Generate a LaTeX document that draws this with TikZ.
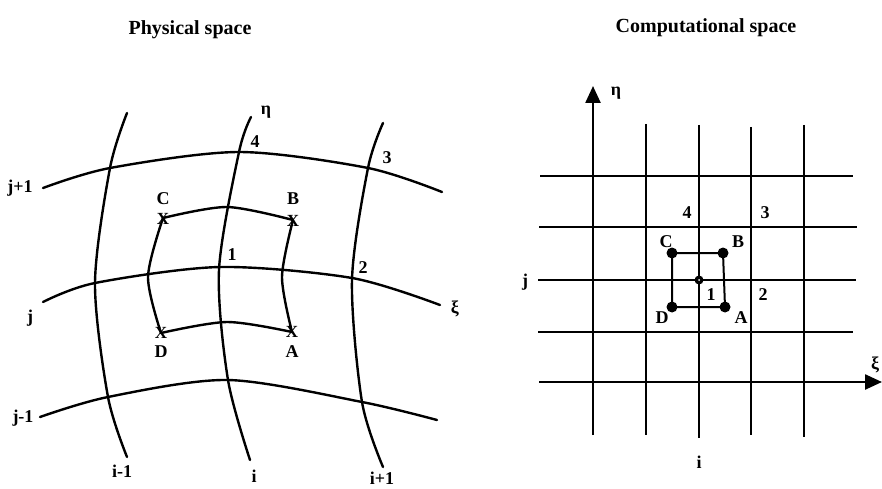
\documentclass[tikz,border=0pt]{standalone}
\usepackage{fontspec}
\setmainfont{Liberation Serif}
\usetikzlibrary{arrows.meta}
\begin{document}
\begin{tikzpicture}[x=1pt,y=-1pt,
  gline/.style={line width=2.4pt,line cap=round},
  lbl/.style={font=\fontsize{18}{18}\selectfont\bfseries,inner sep=0pt},
  ttl/.style={font=\fontsize{20}{20}\selectfont\bfseries,inner sep=0pt},
  xmark/.style={font=\fontsize{17}{17}\selectfont\bfseries,inner sep=0pt},
  dot/.style={circle,fill=black,inner sep=0pt,minimum size=11pt},
  axarrow/.style={line width=2.4pt,-{Triangle[length=17pt,width=15pt]}}]
\useasboundingbox (0,0) rectangle (882,489);
% ---------- Physical space ----------
\node[ttl] (t1) at (190,30) {Physical space};
% eta-lines (i)
\draw[gline] plot[smooth] coordinates {(127,113) (110,168) (95,283) (108,397) (127,457)};
\draw[gline] plot[smooth] coordinates {(251,117) (239,152) (219,270) (228,380) (250,460)};
\draw[gline] plot[smooth] coordinates {(383,123) (368,168) (352,280) (362,402) (383,467)};
% xi-lines (j)
\draw[gline] plot[smooth] coordinates {(43,188) (110,168) (239,152) (368,168) (442,192)};
\draw[gline] plot[smooth] coordinates {(43,302) (95,283) (220,267) (352,278) (440,305)};
\draw[gline] plot[smooth] coordinates {(40,417) (108,397) (228,380) (362,402) (437,420)};
% inner cell
\draw[gline] plot[smooth] coordinates {(163,218) (227,207) (293,220)};
\draw[gline] plot[smooth] coordinates {(161,333) (227,322) (292,332)};
\draw[gline] plot[smooth] coordinates {(163,218) (148,277) (161,333)};
\draw[gline] plot[smooth] coordinates {(293,220) (282,277) (292,332)};
\node[xmark] (xc) at (163,219) {X};
\node[xmark] (xb) at (293,221) {X};
\node[xmark] (xd) at (161,333) {X};
\node[xmark] (xa) at (292,332) {X};
\node[lbl] (lc) at (163,199) {C};
\node[lbl] (lb) at (293,199) {B};
\node[lbl] (ld) at (161,352) {D};
\node[lbl] (la) at (292,352) {A};
\node[lbl] (l1) at (232,255) {1};
\node[lbl] (l2) at (363,268) {2};
\node[lbl] (l3) at (387,158) {3};
\node[lbl] (l4) at (255,142) {4};
\node[lbl] (eta1) at (266,112) {η};
\node[lbl] (xi1) at (455,309) {ξ};
\node[lbl] (jp1) at (20,188) {j+1};
\node[lbl] (j1) at (30,318) {j};
\node[lbl] (jm1) at (23,418) {j-1};
\node[lbl] (im1) at (122,471) {i-1};
\node[lbl] (i1) at (254,476) {i};
\node[lbl] (ip1) at (382,478) {i+1};
% ---------- Computational space ----------
\node[ttl] (t2) at (706,28) {Computational space};
\coordinate (eb) at (593,435);
\coordinate (et) at (593,86);
\draw[axarrow] (eb) -- (et);
\coordinate (xl) at (539,382);
\coordinate (xr) at (882,382);
\draw[axarrow] (xl) -- (xr);
\foreach \x/\t/\b in {646/124/435, 699/125/438, 751/127/435, 804/125/437}
  \draw[gline,line cap=butt] (\x,\t) -- (\x,\b);
\foreach \y/\l/\r in {176/540/853, 227/539/857, 280/538/856, 332/538/853}
  \draw[gline,line cap=butt] (\l,\y) -- (\r,\y);
\coordinate (pc) at (672,253);
\coordinate (pb) at (723,253);
\coordinate (pa) at (725,307);
\coordinate (pd) at (672,307);
\draw[line width=2pt,line join=miter] (pc) -- (pb) -- (pa) -- (pd) -- cycle;
\node[dot] (dc) at (pc) {};
\node[dot] (db) at (pb) {};
\node[dot] (da) at (pa) {};
\node[dot] (dd) at (pd) {};
\node[circle,fill=black,inner sep=0pt,minimum size=9pt] (p1) at (699,280) {};
\node[circle,fill=white,inner sep=0pt,minimum size=2pt] (p1w) at (699,280) {};
\node[lbl] (rc) at (666,242) {C};
\node[lbl] (rb) at (738,242) {B};
\node[lbl] (rd) at (662,318) {D};
\node[lbl] (ra) at (741,318) {A};
\node[lbl] (r1) at (711,295) {1};
\node[lbl] (r2) at (763,295) {2};
\node[lbl] (r3) at (765,213) {3};
\node[lbl] (r4) at (687,213) {4};
\node[lbl] (rj) at (525,282) {j};
\node[lbl] (ri) at (699,462) {i};
\node[lbl] (eta2) at (616,93) {η};
\node[lbl] (xi2) at (875,365) {ξ};
\end{tikzpicture}
\end{document}
